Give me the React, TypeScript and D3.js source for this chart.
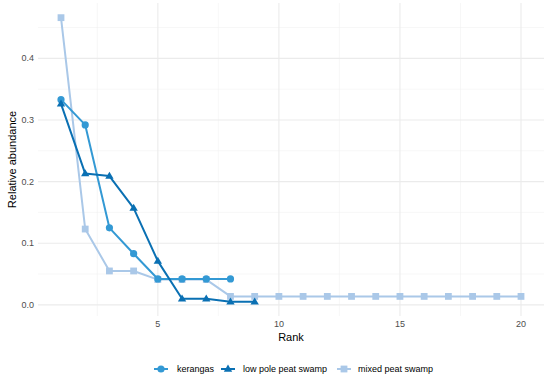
import React from "react";
import * as d3 from "d3";

const ranksK = [1, 2, 3, 4, 5, 6, 7, 8];
const valuesK = [0.333, 0.292, 0.125, 0.083, 0.042, 0.042, 0.042, 0.042];
const ranksL = [1, 2, 3, 4, 5, 6, 7, 8, 9];
const valuesL = [0.326, 0.213, 0.209, 0.157, 0.071, 0.0098, 0.0098, 0.0049, 0.0049];
const ranksM = [1, 2, 3, 4, 5, 6, 7, 8, 9, 10, 11, 12, 13, 14, 15, 16, 17, 18, 19, 20];
const valuesM = [0.466, 0.123, 0.055, 0.055, 0.041, 0.041, 0.041, 0.0137, 0.0137, 0.0137, 0.0137, 0.0137, 0.0137, 0.0137, 0.0137, 0.0137, 0.0137, 0.0137, 0.0137, 0.0137];
const seriesNames = ["kerangas", "low pole peat swamp", "mixed peat swamp"];
const xTicks = [5, 10, 15, 20];
const xMinor = [2.5, 7.5, 12.5, 17.5];
const yTicks = [0, 0.1, 0.2, 0.3, 0.4];
const yMinor = [0.05, 0.15, 0.25, 0.35, 0.45];

const colors = ["#3399d4", "#0a70b3", "#aac8e8"];
const shapes = ["circle", "triangle", "square"];

export default function App() {
  const W = 550, H = 382;
  const left = 38, right = 544, top = 3, bottom = 316;
  const x = d3.scaleLinear().domain([0.05, 20.95]).range([left, right]);
  const y = d3.scaleLinear().domain([-0.0181, 0.4898]).range([bottom, top]);
  const series = [
    { name: seriesNames[0], xs: ranksK, ys: valuesK },
    { name: seriesNames[1], xs: ranksL, ys: valuesL },
    { name: seriesNames[2], xs: ranksM, ys: valuesM },
  ];
  const line = d3.line<[number, number]>().x(d => x(d[0])).y(d => y(d[1]));
  const marker = (shape: string, cx: number, cy: number, c: string, k: string, s = 1) => {
    if (shape === "circle") return <circle key={k} cx={cx} cy={cy} r={3.6 * s} fill={c} />;
    if (shape === "square") return <rect key={k} x={cx - 3.4 * s} y={cy - 3.4 * s} width={6.8 * s} height={6.8 * s} fill={c} />;
    const r = 4.4 * s;
    return <path key={k} d={`M${cx},${cy - r}L${cx + r * 0.95},${cy + r * 0.6}L${cx - r * 0.95},${cy + r * 0.6}Z`} fill={c} />;
  };
  const legendItems = [
    { kx: 154, tx: 177 },
    { kx: 221, tx: 243 },
    { kx: 337, tx: 358 },
  ];
  const ly = 369;
  return (
    <svg width={W} height={H} style={{ position: "absolute", left: 0, top: 0, fontFamily: "Liberation Sans, Arial, sans-serif" }}>
      <rect width={W} height={H} fill="#fff" />
      {yMinor.map(v => <line key={"ym" + v} x1={left} x2={right} y1={y(v)} y2={y(v)} stroke="#f1f1f1" strokeWidth={0.55} />)}
      {xMinor.map(v => <line key={"xm" + v} x1={x(v)} x2={x(v)} y1={top} y2={bottom} stroke="#f1f1f1" strokeWidth={0.55} />)}
      {yTicks.map(v => <line key={"yg" + v} x1={left} x2={right} y1={y(v)} y2={y(v)} stroke="#ebebeb" strokeWidth={1.1} />)}
      {xTicks.map(v => <line key={"xg" + v} x1={x(v)} x2={x(v)} y1={top} y2={bottom} stroke="#ebebeb" strokeWidth={1.1} />)}
      {yTicks.map(v => <text key={"yt" + v} x={left - 4} y={y(v)} dy="0.35em" textAnchor="end" fontSize={9} fill="#4d4d4d">{v.toFixed(1)}</text>)}
      {xTicks.map(v => <text key={"xt" + v} x={x(v)} y={bottom + 11} textAnchor="middle" fontSize={9} fill="#4d4d4d">{v}</text>)}
      <text x={(left + right) / 2} y={341} textAnchor="middle" fontSize={11} fill="#000">Rank</text>
      <text transform={`translate(16,${(top + bottom) / 2}) rotate(-90)`} textAnchor="middle" fontSize={11} fill="#000">Relative abundance</text>
      {[2, 0, 1].map(i => {
        const s = series[i];
        const pts = s.xs.map((r, j) => [r, s.ys[j]] as [number, number]);
        return (
          <g key={s.name}>
            <path d={line(pts) || ""} fill="none" stroke={colors[i]} strokeWidth={2} strokeLinejoin="round" />
            {pts.map((p, j) => marker(shapes[i], x(p[0]), y(p[1]), colors[i], s.name + j))}
          </g>
        );
      })}
      {legendItems.map((it, i) => (
        <g key={"lg" + i}>
          <line x1={it.kx} x2={it.kx + 14} y1={ly} y2={ly} stroke={colors[i]} strokeWidth={2} />
          {marker(shapes[i], it.kx + 7, ly, colors[i], "lm" + i)}
          <text x={it.tx} y={ly} dy="0.35em" fontSize={9} fill="#000">{seriesNames[i]}</text>
        </g>
      ))}
    </svg>
  );
}
